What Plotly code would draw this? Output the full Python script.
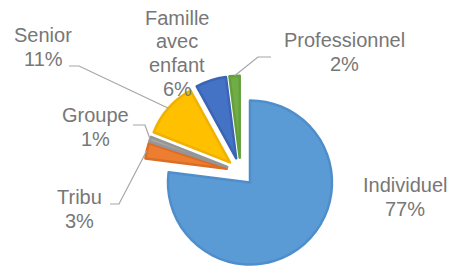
import math
import plotly.graph_objects as go

# ---- data ----
categories = ["Individuel", "Tribu", "Groupe", "Senior", "Famille avec enfant", "Professionnel"]
label_lines = [["Individuel"], ["Tribu"], ["Groupe"], ["Senior"], ["Famille", "avec", "enfant"], ["Professionnel"]]
values = [77, 3, 1, 11, 6, 2]
colors = ["#5B9BD5", "#ED7D31", "#A5A5A5", "#FFC000", "#4472C4", "#70AD47"]
borders = ["#4E8ECB", "#DB6D24", "#959595", "#F0B200", "#3B65B4", "#63A03C"]

# ---- layout constants (pixels) ----
W, H = 452, 268
R = 82                    # radius
PULL = 0.173              # explosion as fraction of radius
half = R * (1 + PULL)
CX = 240.6
CY = H - half             # pie centre (domain touches bottom)

dom_x = [(CX - half) / W, (CX + half) / W]
dom_y = [0.0, 2 * half / H]

fig = go.Figure(go.Pie(
    labels=categories,
    values=values,
    sort=False,
    direction="clockwise",
    rotation=0,
    pull=[PULL] * len(values),
    textinfo="none",
    hoverinfo="label+percent",
    marker=dict(colors=colors, line=dict(color=borders, width=2.5)),
    domain=dict(x=dom_x, y=dom_y),
    showlegend=False,
))

# label placement: centre x and first-line centre y (pixels)
label_pos = {
    "Individuel": (405, 185),
    "Tribu": (79, 197),
    "Groupe": (95, 115),
    "Senior": (43, 35),
    "Famille avec enfant": (177, 18),
    "Professionnel": (344, 40),
}
LINE_H = 23.5
leaders = {  # (start, elbow) pixels; end computed from slice geometry
    "Tribu": ((110, 204), (119, 204)),
    "Groupe": ((133, 125), (145, 125)),
    "Senior": ((69, 66), (79, 66)),
    "Professionnel": ((271, 57), (258, 57)),
}

total = sum(values)
pcts = [round(v / total * 100) for v in values]

def px2paper(x, y):
    return x / W, 1 - y / H

cum = 0
anchors = {}
for cat, v in zip(categories, values):
    mid = (cum + v / 2) / total * 2 * math.pi
    cum += v
    dx, dy = math.sin(mid), -math.cos(mid)
    off = PULL * R
    anchors[cat] = (CX + off * dx + R * dx, CY + off * dy + R * dy)

FONT = dict(family="Liberation Sans, Arial, sans-serif", size=20, color="#777777")
annotations = []
for cat, lines, p in zip(categories, label_lines, pcts):
    x, y = label_pos[cat]
    for i, t in enumerate(lines + [f"{p}%"]):
        px, py = px2paper(x, y + i * LINE_H)
        annotations.append(dict(
            x=px, y=py, xref="paper", yref="paper", showarrow=False,
            text=t, font=FONT, xanchor="center", yanchor="middle",
        ))

shapes = []
for cat, (s, e) in leaders.items():
    a = anchors[cat]
    pts = [px2paper(*s), px2paper(*e), px2paper(*a)]
    path = "M {} {} L {} {} L {} {}".format(pts[0][0], pts[0][1], pts[1][0], pts[1][1], pts[2][0], pts[2][1])
    shapes.append(dict(type="path", path=path, xref="paper", yref="paper",
                       line=dict(color="#A6A6A6", width=1.2)))

fig.update_layout(
    width=W, height=H, autosize=False,
    margin=dict(l=0, r=0, t=0, b=0),
    paper_bgcolor="white", plot_bgcolor="white",
    annotations=annotations, shapes=shapes,
)

fig.write_html("out.html", config={"displayModeBar": False},
               post_script="document.body.style.margin='0px';")
